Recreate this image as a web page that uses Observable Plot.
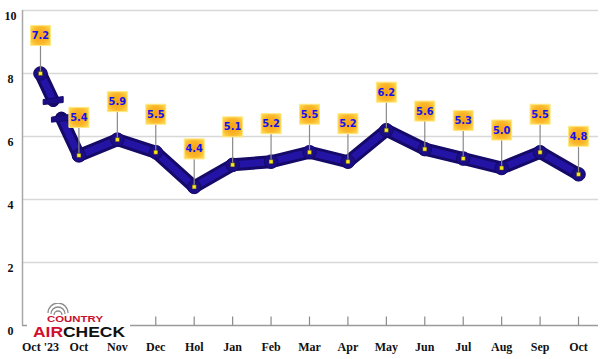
<!DOCTYPE html>
<html>
<head>
<meta charset="utf-8">
<script src="https://cdn.jsdelivr.net/npm/d3@7"></script>
<script src="https://cdn.jsdelivr.net/npm/@observablehq/plot@0.6"></script>
<style>
  html, body { margin: 0; padding: 0; background: #fff; }
  #chart { position: relative; width: 600px; height: 359px; overflow: hidden; }
  #logo { position: absolute; left: 27px; top: 303px; width: 103px; height: 36px; background: #fff; }
</style>
</head>
<body>
<div id="chart"></div>
<script>
const months = ["Oct '23","Oct","Nov","Dec","Hol","Jan","Feb","Mar","Apr","May","Jun","Jul","Aug","Sep","Oct"];
const values = [7.2, 5.4, 5.9, 5.5, 4.4, 5.1, 5.2, 5.5, 5.2, 6.2, 5.6, 5.3, 5.0, 5.5, 4.8];
const yTicks = [0, 2, 4, 6, 8, 10];
const gridTicks = [2, 4, 6, 8, 10];
// the first value sits above a broken axis and is drawn at the break level
const breakLevel = 8;
const breakGap = [0.33, 0.545]; // fraction of the first segment hidden by the break
const xDomain = [-0.468, 14.52];

const data = months.map((m, i) => ({i, month: m, value: values[i], y: i === 0 ? breakLevel : values[i]}));
const interp = t => ({i: t, y: data[0].y + (data[1].y - data[0].y) * t});
const upper = [data[0], interp(breakGap[0])];
const lower = [interp(breakGap[1]), ...data.slice(1)];

const stem = {draw(ctx) { ctx.moveTo(0, 0); ctx.lineTo(0, -28); }};
const tickUp = {draw(ctx) { ctx.moveTo(0, 0); ctx.lineTo(0, -9); }};
const capBar = {draw(ctx) { ctx.moveTo(-10, -1); ctx.lineTo(10, -4); ctx.lineTo(10, 2); ctx.lineTo(-10, 4); ctx.closePath(); }};

const defs = () => {
  const d = d3.create("svg:defs");
  const g = d.append("radialGradient").attr("id", "boxGrad").attr("cx", "50%").attr("cy", "50%").attr("r", "70%");
  g.append("stop").attr("offset", "0%").attr("stop-color", "#f7a214");
  g.append("stop").attr("offset", "55%").attr("stop-color", "#fbb62a");
  g.append("stop").attr("offset", "100%").attr("stop-color", "#ffe25a");
  return d.node();
};

const navyOuter = "#150a68";
const navyInner = "#2414a6";

const plot = Plot.plot({
  width: 600,
  height: 359,
  marginLeft: 22,
  marginRight: 2,
  marginTop: 10,
  marginBottom: 34,
  style: {fontFamily: "Liberation Sans", background: "#fff", overflow: "visible"},
  x: {type: "linear", domain: xDomain, label: null},
  y: {domain: [0, 10], label: null},
  marks: [
    defs,
    Plot.gridY(gridTicks, {stroke: "#d8d8d8", strokeOpacity: 1, strokeWidth: 1.5}),
    Plot.ruleY([0], {stroke: "#9a9a9a", strokeWidth: 1.5}),
    Plot.ruleX([xDomain[0]], {stroke: "#a8a8a8", strokeWidth: 1.5}),
    Plot.dot(data, {x: "i", y: () => 0, symbol: tickUp, stroke: "#8a8a8a", strokeWidth: 1.2, fill: "none"}),
    Plot.axisY(yTicks, {label: null, tickSize: 0, tickPadding: 12, textAnchor: "middle", dy: 6, fontWeight: "bold", fontSize: 12, fill: "#111", fontFamily: "Liberation Sans Narrow"}),
    Plot.axisX({label: null, ticks: d3.range(months.length), tickFormat: i => months[i], tickSize: 0, tickPadding: 17, fontWeight: "bold", fontSize: 12, fill: "#111", fontFamily: "Liberation Sans Narrow"}),
    Plot.line(upper, {x: "i", y: "y", stroke: navyOuter, strokeWidth: 13, strokeLinecap: "round"}),
    Plot.line(lower, {x: "i", y: "y", stroke: navyOuter, strokeWidth: 13, strokeLinecap: "round", strokeLinejoin: "round"}),
    Plot.line(upper, {x: "i", y: "y", stroke: navyInner, strokeWidth: 7, strokeLinecap: "round"}),
    Plot.line(lower, {x: "i", y: "y", stroke: navyInner, strokeWidth: 7, strokeLinecap: "round", strokeLinejoin: "round"}),
    Plot.dot(data, {x: "i", y: "y", r: 6.8, fill: "#1b0d86", stroke: navyOuter, strokeWidth: 1}),
    Plot.dot([interp(breakGap[0]), interp(breakGap[1])], {x: "i", y: "y", symbol: capBar, fill: "#1b0d86", stroke: navyOuter, strokeWidth: 1}),
    Plot.dot(data, {x: "i", y: "y", symbol: stem, stroke: "#8a8a8a", strokeWidth: 1.2, fill: "none"}),
    Plot.dot(data, {x: "i", y: "y", symbol: "square", r: 2.3, fill: "#ffe81a", stroke: "#333", strokeWidth: 0.5}),
    Plot.dot(data, {x: "i", y: "y", symbol: "square", r: 11.3, dy: -38, fill: "url(#boxGrad)", stroke: "#ffe880", strokeWidth: 1}),
    Plot.text(data, {x: "i", y: "y", text: d => d.value.toFixed(1), dy: -38, fill: "#1212ee", fontWeight: "bold", fontSize: 11, fontFamily: "DejaVu Sans Condensed"})
  ]
});

const chart = document.getElementById("chart");
chart.appendChild(plot);

const logo = document.createElement("div");
logo.id = "logo";
logo.innerHTML = `<svg width="103" height="36" viewBox="0 0 103 36" xmlns="http://www.w3.org/2000/svg">
  <g fill="none" stroke="#8c8c8c" stroke-width="1.3">
    <path d="M27,12 A4,4 0 0 1 35,12"/>
    <path d="M24,11 A7,7 0 0 1 38,11"/>
    <path d="M21,10 A10,10 0 0 1 41,10"/>
  </g>
  <text x="48" y="19" text-anchor="middle" font-family="Liberation Sans" font-weight="bold" font-size="9" fill="#c8102e" textLength="56" lengthAdjust="spacingAndGlyphs">COUNTRY</text>
  <text x="6" y="34" font-family="Liberation Sans" font-weight="bold" font-size="14.5" textLength="92" lengthAdjust="spacingAndGlyphs"><tspan fill="#d0102e">AIR</tspan><tspan fill="#111">CHECK</tspan></text>
</svg>`;
chart.appendChild(logo);
</script>
</body>
</html>
